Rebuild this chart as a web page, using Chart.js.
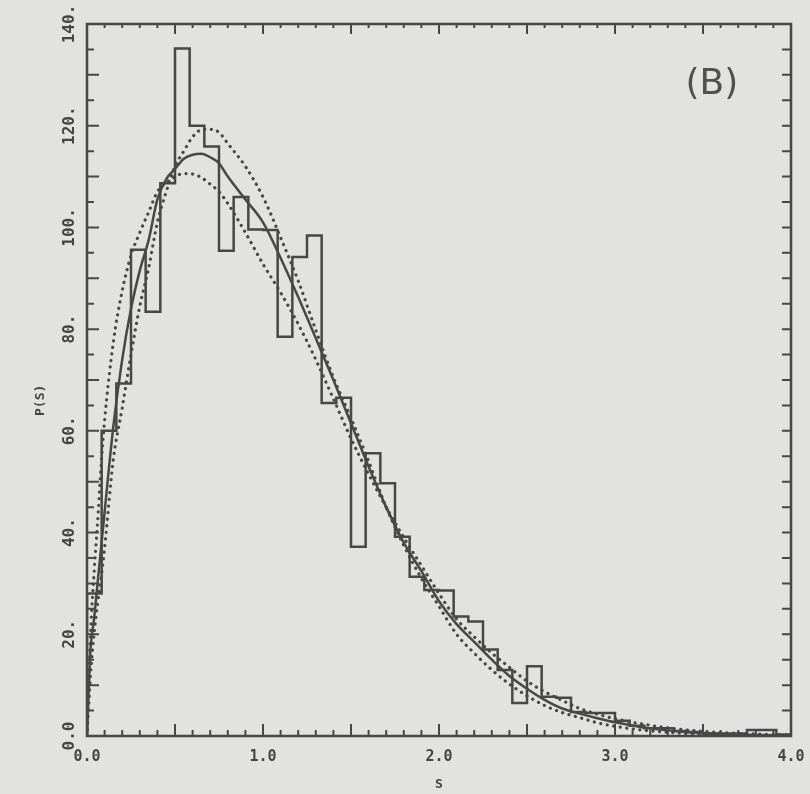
<!DOCTYPE html>
<html>
<head>
<meta charset="utf-8">
<script src="https://cdn.jsdelivr.net/npm/chart.js@4.4.0/dist/chart.umd.min.js"></script>
<style>
html,body{margin:0;padding:0;background:#e2e2e0;}
#wrap{width:810px;height:794px;}
</style>
</head>
<body>
<div id="wrap"><canvas id="myChart" width="810" height="794"></canvas></div>
<script>
// 곡선 x 좌표 (S)
var v_s = [0, 0.02, 0.04, 0.06, 0.08, 0.1, 0.15, 0.2, 0.25, 0.3, 0.35, 0.4, 0.45, 0.5, 0.55, 0.6, 0.65, 0.7, 0.75, 0.8,
           0.9, 1.0, 1.1, 1.2, 1.3, 1.4, 1.5, 1.6, 1.7, 1.8, 1.9, 2.0, 2.1, 2.2, 2.3, 2.4, 2.5, 2.6, 2.7, 2.8,
           2.9, 3.0, 3.2, 3.4, 3.6, 3.8, 4.0];
// 실선 (fit)
var v_fit = [0, 17, 23, 30, 37, 44, 61, 74, 84, 91.5, 97.5, 105.5, 109.5, 111.5, 113.5, 114.3, 114.5, 113.8, 112.6, 110,
             105.5, 101, 94, 86.3, 78.2, 70, 61.5, 53, 45, 38, 32.4, 26.5, 22, 18.5, 15, 11.8, 9.3, 7.1, 5.4, 4.4,
             3.5, 2.7, 1.5, 0.8, 0.4, 0.2, 0.1];
// 점선 (낮은 봉우리)
var v_low = [0, 20, 32, 42, 53, 62, 77.5, 87.5, 94.5, 99, 103, 107, 108.8, 110, 110.6, 110.5, 109.8, 108.5, 107, 104.7,
             99, 92.8, 87.2, 81, 74, 66.3, 58.5, 51.5, 45, 39, 33.5, 28, 23, 19.5, 16.3, 13.5, 10.8, 8.7, 7, 5.4,
             4.3, 3.4, 2.1, 1.2, 0.7, 0.4, 0.2];
// 점선 (높은 봉우리)
var v_high = [0, 12, 20, 26, 31, 37, 54.5, 64.5, 75, 84.5, 92, 101, 107, 112, 115, 117.8, 119.2, 119.3, 118.7, 116.5,
              112, 106, 98, 89.5, 79.8, 70.5, 62.5, 54, 45, 37.5, 31, 25.5, 20, 16.3, 13, 10.2, 7.9, 6, 4.6, 3.6,
              2.6, 1.9, 1.0, 0.5, 0.2, 0.1, 0];
// 히스토그램 (bin 폭 1/12)
var v_binw = 1 / 12;
var v_hist = [28, 60, 69.3, 95.6, 83.4, 108.7, 135.2, 120, 115.9, 95.4, 106, 99.6, 99.5, 78.5, 94.2, 98.4,
              65.5, 66.5, 37.2, 55.6, 49.7, 39.2, 31.3, 28.7, 28.6, 23.5, 22.5, 17, 13, 6.5, 13.7, 7.7,
              7.5, 4.7, 4.5, 4.5, 3, 2, 1.5, 1.5, 1, 0.8, 0.5, 0.5, 0.5, 1.2, 1.2, 0.3];
// 눈금 라벨
var v_xticks = ["0.0", "1.0", "2.0", "3.0", "4.0"];
var v_yvals = [0, 20, 40, 60, 80, 100, 120, 140];
var v_yticks = ["0.0", "20.", "40.", "60.", "80.", "100.", "120.", "140."];

var v_ink = "#474747";
var v_font = "'DejaVu Sans Mono', monospace";

function f_curve(p_ys) {
  var v_pts = [];
  for (var i = 0; i < v_s.length; i++) {
    v_pts.push({x: v_s[i], y: p_ys[i]});
  }
  return v_pts;
}

function f_histpts() {
  var v_pts = [{x: 0, y: 0}];
  for (var k = 0; k < v_hist.length; k++) {
    v_pts.push({x: k * v_binw, y: v_hist[k]});
  }
  v_pts.push({x: v_hist.length * v_binw, y: v_hist[v_hist.length - 1]});
  v_pts.push({x: v_hist.length * v_binw, y: 0});
  return v_pts;
}

// 테두리, 안쪽 눈금, 세로 라벨
var p_decor = {
  id: "decor",
  beforeDraw: function (chart) {
    var ctx = chart.ctx;
    ctx.save();
    ctx.fillStyle = "#e2e2e0";
    ctx.fillRect(0, 0, chart.width, chart.height);
    ctx.restore();
  },
  afterDraw: function (chart) {
    var ctx = chart.ctx, a = chart.chartArea;
    var xs = chart.scales.x, ys = chart.scales.y;
    ctx.save();
    ctx.strokeStyle = v_ink;
    ctx.lineWidth = 2.5;
    ctx.strokeRect(a.left, a.top, a.right - a.left, a.bottom - a.top);

    ctx.lineWidth = 2;
    ctx.beginPath();
    for (var i = 0; i <= 40; i++) {
      var px = xs.getPixelForValue(i / 10);
      var len = (i % 5 == 0) ? 12 : 6;
      ctx.moveTo(px, a.bottom); ctx.lineTo(px, a.bottom - len);
      ctx.moveTo(px, a.top); ctx.lineTo(px, a.top + ((i % 5 == 0) ? 10 : 4));
    }
    for (var j = 0; j <= 28; j++) {
      var py = ys.getPixelForValue(j * 5);
      ctx.moveTo(a.left, py); ctx.lineTo(a.left + ((j % 2 == 0) ? 12 : 7), py);
      ctx.moveTo(a.right, py); ctx.lineTo(a.right - 9, py);
    }
    ctx.stroke();

    // y 눈금 라벨 (세로)
    ctx.fillStyle = "#444";
    ctx.font = "bold 16px " + v_font;
    ctx.textAlign = "center";
    ctx.textBaseline = "middle";
    for (var t = 0; t < v_yvals.length; t++) {
      ctx.save();
      ctx.translate(70, ys.getPixelForValue(v_yvals[t]));
      ctx.rotate(-Math.PI / 2);
      ctx.fillText(v_yticks[t], 0, 0);
      ctx.restore();
    }
    // y 제목
    ctx.save();
    ctx.font = "bold 13px " + v_font;
    ctx.translate(41, ys.getPixelForValue(66));
    ctx.rotate(-Math.PI / 2);
    ctx.fillText("P(S)", 0, 0);
    ctx.restore();

    // (B) 표시
    ctx.fillStyle = "#505050";
    ctx.font = "36px 'DejaVu Sans', sans-serif";
    ctx.fillText("(B)", xs.getPixelForValue(3.55), ys.getPixelForValue(128));
    ctx.restore();
  }
};

var ctx = document.getElementById("myChart").getContext("2d");
var myChart = new Chart(ctx, {
  type: "line",
  data: {
    datasets: [{
      data: f_histpts(),
      stepped: "before",
      borderColor: v_ink,
      borderWidth: 2.5,
      pointRadius: 0,
      fill: false
    }, {
      data: f_curve(v_fit),
      borderColor: v_ink,
      borderWidth: 2.5,
      pointRadius: 0,
      cubicInterpolationMode: "monotone",
      fill: false
    }, {
      data: f_curve(v_low),
      borderColor: v_ink,
      borderWidth: 3.2,
      borderDash: [0.1, 6.5],
      borderCapStyle: "round",
      pointRadius: 0,
      cubicInterpolationMode: "monotone",
      fill: false
    }, {
      data: f_curve(v_high),
      borderColor: v_ink,
      borderWidth: 3.2,
      borderDash: [0.1, 6.5],
      borderCapStyle: "round",
      pointRadius: 0,
      cubicInterpolationMode: "monotone",
      fill: false
    }]
  },
  options: {
    responsive: false,
    animation: false,
    layout: {padding: {left: 0, right: 19, top: 24, bottom: 0}},
    plugins: {legend: {display: false}, tooltip: {enabled: false}},
    scales: {
      x: {
        type: "linear", min: 0, max: 4,
        afterFit: function (s) { s.height = 58; s.paddingLeft = 0; s.paddingRight = 0; },
        grid: {display: false, drawTicks: false},
        border: {display: false},
        ticks: {
          stepSize: 1, padding: 12, color: "#444",
          font: {family: v_font, size: 15, weight: "bold"},
          callback: function (v, i) { return v_xticks[i]; }
        },
        title: {display: true, text: "S", color: "#444", padding: {top: 0, bottom: 2},
                font: {family: v_font, size: 13, weight: "bold"}}
      },
      y: {
        min: 0, max: 140,
        afterFit: function (s) { s.width = 87; },
        grid: {display: false, drawTicks: false},
        border: {display: false},
        ticks: {display: false, stepSize: 20}
      }
    }
  },
  plugins: [p_decor]
});
</script>
</body>
</html>
